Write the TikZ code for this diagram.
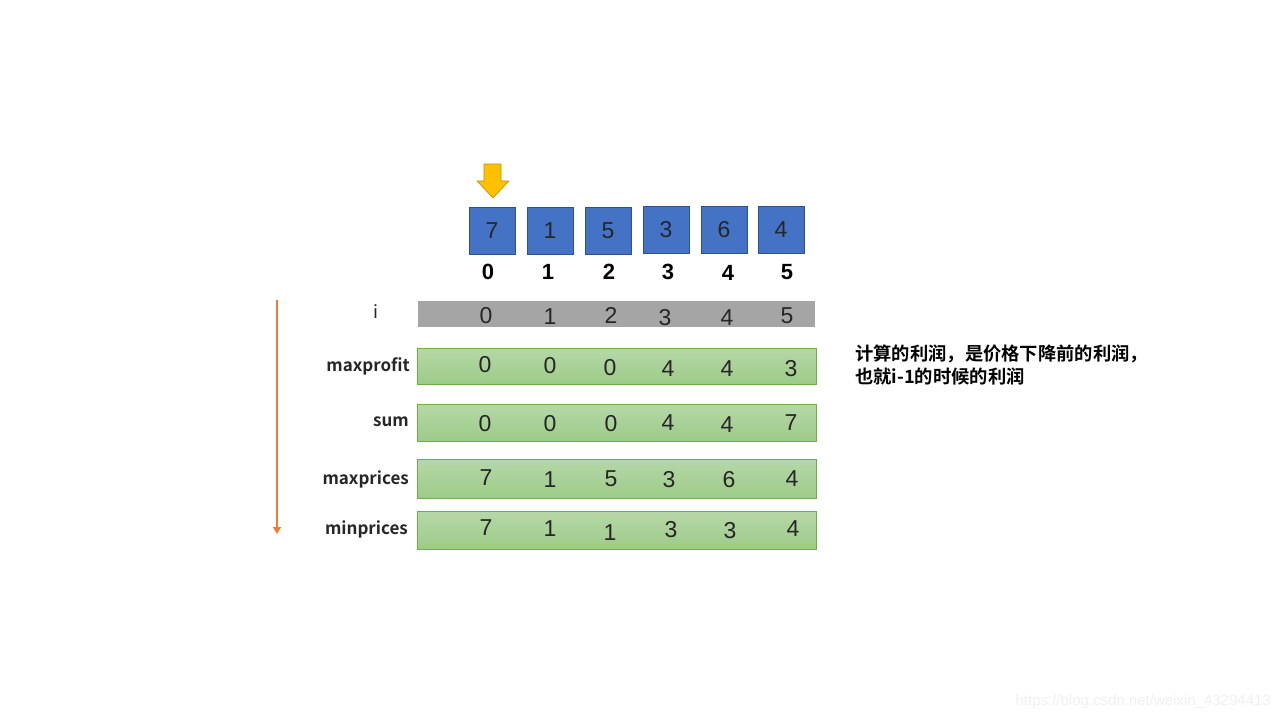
\documentclass[tikz,border=0pt]{standalone}
\usepackage{fontspec}
\setmainfont{Liberation Sans}
\newfontfamily\cjk{Noto Sans CJK SC}[BoldFont={Noto Sans CJK SC Bold}]
\usetikzlibrary{arrows.meta}
\definecolor{boxblue}{HTML}{4472C4}
\definecolor{boxbluedark}{HTML}{2F528F}
\definecolor{bargray}{HTML}{A5A5A5}
\definecolor{greentop}{HTML}{B6D8A8}
\definecolor{greenbot}{HTML}{9DCB88}
\definecolor{greenedge}{HTML}{70AD47}
\definecolor{orangeline}{HTML}{ED7D31}
\definecolor{arrowyellow}{HTML}{FFC000}
\definecolor{arrowedge}{HTML}{BF9000}
\definecolor{numtext}{HTML}{262626}
\begin{document}
\begin{tikzpicture}[x=1pt,y=-1pt,
  pricebox/.style={draw=boxbluedark, line width=0.8pt, fill=boxblue, minimum width=46pt, minimum height=47pt, inner sep=0pt, font=\fontsize{23}{23}\selectfont, text=numtext},
  idx/.style={font=\fontsize{22}{22}\selectfont\bfseries, text=black},
  graybar/.style={fill=bargray, draw=none, minimum width=397pt, minimum height=26pt, inner sep=0pt},
  greenbar/.style={top color=greentop, bottom color=greenbot, draw=greenedge, line width=0.8pt, minimum width=399pt, inner sep=0pt},
  val/.style={font=\fontsize{23}{23}\selectfont, text=numtext, inner sep=0pt},
  rowlabel/.style={font=\cjk\fontsize{17}{17}\selectfont\bfseries, text=numtext, inner sep=0pt},
  note/.style={font=\cjk\fontsize{18.3}{23}\selectfont\bfseries, text=black, align=left, inner sep=0pt, anchor=north west},
  ]
\useasboundingbox[fill=white] (0,0) rectangle (1280,720);

% yellow pointer arrow
\draw[fill=arrowyellow, draw=arrowedge, line width=0.6pt]
  (484,164) -- (501,164) -- (501,181) -- (509,181) -- (493,198) -- (477,181) -- (484,181) -- cycle;

% price boxes
\node[pricebox] (p0) at (492,230.5) {7};
\node[pricebox] (p1) at (550,230.5) {1};
\node[pricebox] (p2) at (608,230.5) {5};
\node[pricebox] (p3) at (666,229.5) {3};
\node[pricebox] (p4) at (724,229.5) {6};
\node[pricebox] (p5) at (781,229.5) {4};

% indices
\node[idx] (x0) at (488,272) {0};
\node[idx] (x1) at (548,272) {1};
\node[idx] (x2) at (609,272) {2};
\node[idx] (x3) at (668,272) {3};
\node[idx] (x4) at (728,273) {4};
\node[idx] (x5) at (787,272) {5};

% orange time arrow
\coordinate (tA) at (277,300);
\coordinate (tB) at (277,534);
\draw[orangeline, line width=1.6pt, -{Triangle[width=8pt,length=7pt]}] (tA) -- (tB);

% i row
\node[graybar] (bi) at (616.5,314) {};
\node[rowlabel, font=\cjk\fontsize{18}{18}\selectfont] (li) at (376,312) {i};
\node[val] (i0) at (486,316) {0};
\node[val] (i1) at (550,317) {1};
\node[val] (i2) at (611,315) {2};
\node[val] (i3) at (665,318) {3};
\node[val] (i4) at (727,318) {4};
\node[val] (i5) at (787,316) {5};

% maxprofit row
\node[greenbar, minimum height=36pt] (bmp) at (616.5,366) {};
\node[rowlabel, anchor=east] (lmp) at (410,366) {maxprofit};
\node[val] (mp0) at (485,365) {0};
\node[val] (mp1) at (550,366) {0};
\node[val] (mp2) at (610,368) {0};
\node[val] (mp3) at (668,369) {4};
\node[val] (mp4) at (727,369) {4};
\node[val] (mp5) at (791,369) {3};

% sum row
\node[greenbar, minimum height=37pt] (bs) at (616.5,422.5) {};
\node[rowlabel, anchor=east] (ls) at (409,422) {sum};
\node[val] (s0) at (485,424) {0};
\node[val] (s1) at (550,424) {0};
\node[val] (s2) at (611,424) {0};
\node[val] (s3) at (668,423) {4};
\node[val] (s4) at (727,425) {4};
\node[val] (s5) at (791,423) {7};

% maxprices row
\node[greenbar, minimum height=39pt] (bxp) at (616.5,478.5) {};
\node[rowlabel, anchor=east] (lxp) at (409,479) {maxprices};
\node[val] (xp0) at (486,478) {7};
\node[val] (xp1) at (550,480) {1};
\node[val] (xp2) at (611,479) {5};
\node[val] (xp3) at (669,480) {3};
\node[val] (xp4) at (729,480) {6};
\node[val] (xp5) at (792,479) {4};

% minprices row
\node[greenbar, minimum height=38pt] (bnp) at (616.5,530) {};
\node[rowlabel, anchor=east] (lnp) at (408,529) {minprices};
\node[val] (np0) at (486,528) {7};
\node[val] (np1) at (550,529) {1};
\node[val] (np2) at (610,533) {1};
\node[val] (np3) at (671,530) {3};
\node[val] (np4) at (730,531) {3};
\node[val] (np5) at (793,529) {4};

% note
\node[note] (nt) at (855,345) {计算的利润，是价格下降前的利润，\\也就i-1的时候的利润};

% watermark
\node[anchor=east, inner sep=0pt, font=\fontsize{15}{15}\selectfont, text=black!6] (wm) at (1271,702) {https://blog.csdn.net/weixin\_43294413};
\end{tikzpicture}
\end{document}
